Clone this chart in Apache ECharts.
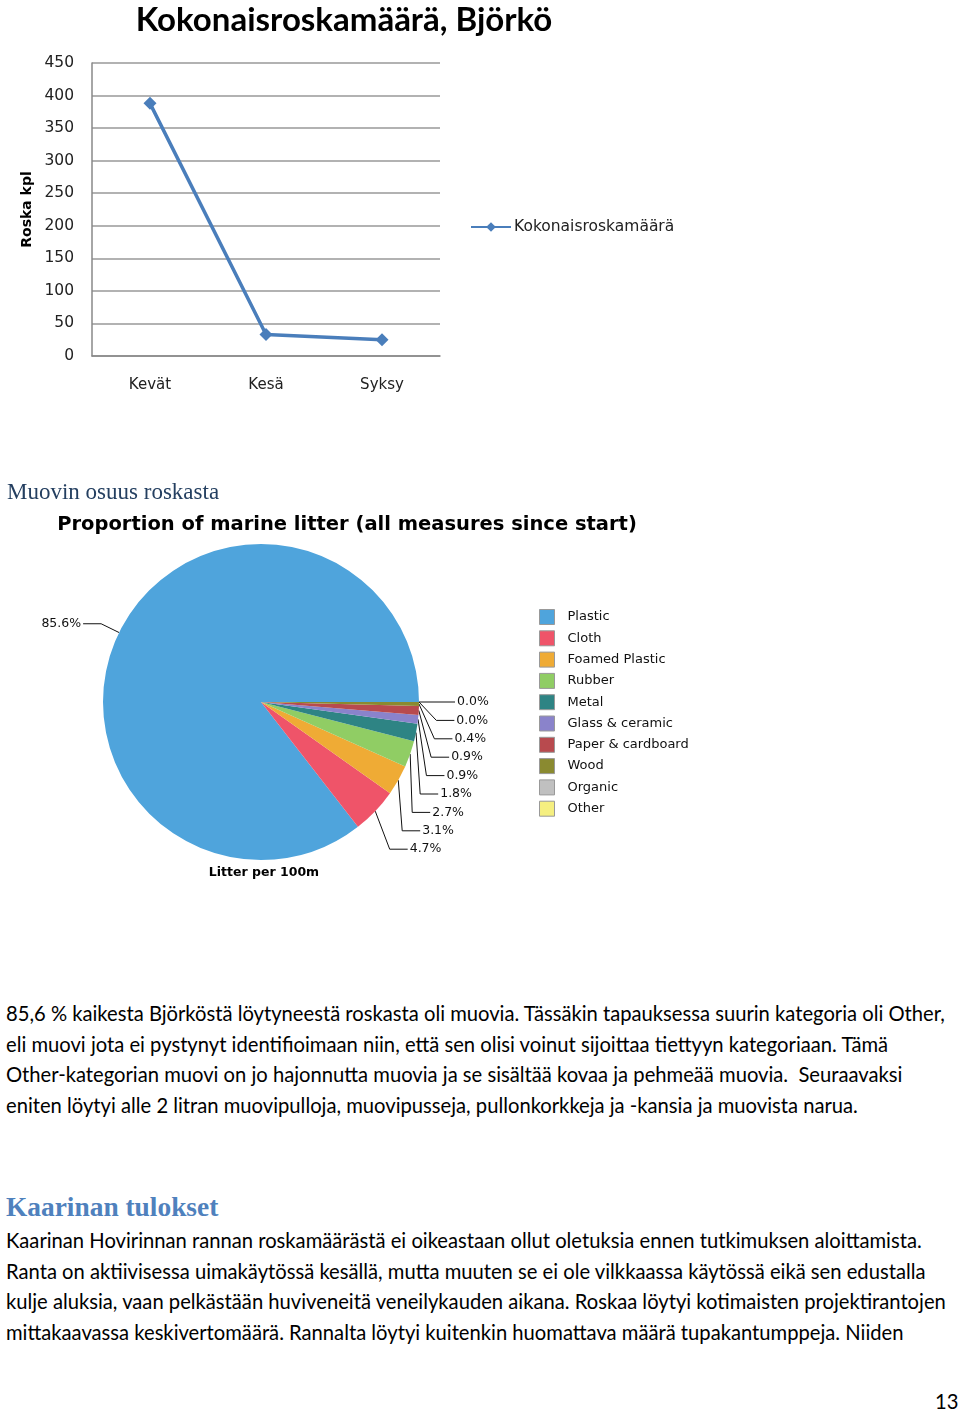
<!DOCTYPE html>
<html>
<head>
<meta charset="utf-8">
<script src="https://cdn.jsdelivr.net/npm/echarts@6/dist/echarts.min.js"></script>
<style>
  html, body { margin: 0; padding: 0; background: #fff; }
  #page { position: relative; width: 960px; height: 1411px; overflow: hidden; }
  #chart { position: absolute; left: 0; top: 0; width: 960px; height: 900px; }
  .t { position: absolute; white-space: nowrap; margin: 0; }
  .body { font-family: "Lato", "Liberation Sans", sans-serif; font-size: 20.2px; color: #000; left: 6px; line-height: 30.7px; }
  .serif { font-family: "Liberation Serif", "DejaVu Serif", serif; }
</style>
</head>
<body>
<div id="page">
  <div id="chart"></div>
  <div class="t serif" style="left:7px; top:479px; font-size:23px; color:#243f60;">Muovin osuus roskasta</div>
  <div class="t body" style="top:998px;">85,6 % kaikesta Björköstä löytyneestä roskasta oli muovia. Tässäkin tapauksessa suurin kategoria oli Other,<br>eli muovi jota ei pystynyt identifioimaan niin, että sen olisi voinut sijoittaa tiettyyn kategoriaan. Tämä<br>Other-kategorian muovi on jo hajonnutta muovia ja se sisältää kovaa ja pehmeää muovia.&nbsp; Seuraavaksi<br>eniten löytyi alle 2 litran muovipulloja, muovipusseja, pullonkorkkeja ja -kansia ja muovista narua.</div>
  <div class="t serif" style="left:6px; top:1192px; font-size:27.4px; font-weight:bold; color:#4f81bd;">Kaarinan tulokset</div>
  <div class="t body" style="top:1225px;">Kaarinan Hovirinnan rannan roskamäärästä ei oikeastaan ollut oletuksia ennen tutkimuksen aloittamista.<br>Ranta on aktiivisessa uimakäytössä kesällä, mutta muuten se ei ole vilkkaassa käytössä eikä sen edustalla<br>kulje aluksia, vaan pelkästään huviveneitä veneilykauden aikana. Roskaa löytyi kotimaisten projektirantojen<br>mittakaavassa keskivertomäärä. Rannalta löytyi kuitenkin huomattava määrä tupakantumppeja. Niiden</div>
  <div class="t body" style="left:935px; top:1386px;">13</div>
</div>
<script>
// ---- Line chart data ----
const seasons = ['Kevät', 'Kesä', 'Syksy'];
const totalLitter = [388, 33, 25];
const lineSeriesName = 'Kokonaisroskamäärä';

// ---- Pie chart data ----
const litterCategories = ['Plastic', 'Cloth', 'Foamed Plastic', 'Rubber', 'Metal', 'Glass & ceramic', 'Paper & cardboard', 'Wood', 'Organic', 'Other'];
const litterShares = [85.6, 4.7, 3.1, 2.7, 1.8, 0.9, 0.9, 0.4, 0.0, 0.0];
const litterColors = ['#4fa4dc', '#ef5469', '#efab35', '#90cd64', '#2e8484', '#8a83cb', '#b84a4e', '#8a8a30', '#c0c0c0', '#f5ef80'];

const chart = echarts.init(document.getElementById('chart'), null, { renderer: 'canvas' });

const option = {
  animation: false,
  color: litterColors,
  title: [
    { text: 'Kokonaisroskamäärä, Björkö', left: 339, top: -1, textAlign: 'center',
      textStyle: { fontFamily: 'Lato', fontWeight: 'bold', fontSize: 33, color: '#000' } },
    { text: 'Proportion of marine litter (all measures since start)', left: 342, top: 510, textAlign: 'center',
      textStyle: { fontFamily: 'DejaVu Sans', fontWeight: 'bold', fontSize: 19.5, color: '#000' } },
    { text: 'Litter per 100m', left: 259, top: 861, textAlign: 'center',
      textStyle: { fontFamily: 'DejaVu Sans', fontWeight: 'bold', fontSize: 12.5, color: '#000' } }
  ],
  legend: [
    { data: [lineSeriesName], orient: 'vertical', left: 465, top: 214,
      itemWidth: 40, itemHeight: 12, itemGap: 0,
      textStyle: { fontFamily: 'DejaVu Sans', fontSize: 15.5, color: '#222', padding: [0, 0, 0, -2] } },
    { data: litterCategories, orient: 'vertical', left: 534, top: 604,
      itemWidth: 15, itemHeight: 15, itemGap: 5.3, icon: 'rect',
      itemStyle: { borderColor: '#999', borderWidth: 1 },
      textStyle: { fontFamily: 'DejaVu Sans', fontSize: 13, color: '#111', padding: [0, 0, 0, 8] } }
  ],
  grid: { left: 92, top: 63, width: 348, height: 293 },
  xAxis: {
    type: 'category', data: seasons, boundaryGap: true,
    axisLine: { lineStyle: { color: '#888', width: 1.5 } },
    axisTick: { show: false },
    axisLabel: { margin: 22, fontFamily: 'DejaVu Sans', fontSize: 15, color: '#222' }
  },
  yAxis: {
    type: 'value', min: 0, max: 450, interval: 50,
    name: 'Roska kpl', nameLocation: 'middle', nameGap: 58, nameRotate: 90,
    nameTextStyle: { fontFamily: 'DejaVu Sans', fontWeight: 'bold', fontSize: 14, color: '#000' },
    axisLine: { show: true, lineStyle: { color: '#888', width: 1.5 } },
    axisTick: { show: false },
    splitLine: { lineStyle: { color: '#999', width: 1.5 } },
    axisLabel: { margin: 18, fontFamily: 'DejaVu Sans', fontSize: 15.5, color: '#222' }
  },
  series: [
    { name: lineSeriesName, type: 'line', data: totalLitter,
      color: '#4a7ebb', symbol: 'diamond', symbolSize: 13,
      lineStyle: { width: 3.5, color: '#4a7ebb' },
      itemStyle: { color: '#4a7ebb' } },
    { name: 'Litter', type: 'pie', center: [261, 702], radius: 158,
      startAngle: 0, clockwise: false,
      data: litterCategories.map((n, i) => ({ name: n, value: litterShares[i], itemStyle: { color: litterColors[i] } })),
      label: { show: true, formatter: p => litterShares[p.dataIndex].toFixed(1) + '%',
        fontFamily: 'DejaVu Sans', fontSize: 12.5, lineHeight: 16.4, color: '#111', distanceToLabelLine: 2 },
      labelLine: { show: true, length: 20, length2: 18, lineStyle: { color: '#111', width: 1 } },
      avoidLabelOverlap: true,
      emphasis: { disabled: true },
      stillShowZeroSum: true
    }
  ]
};
chart.setOption(option);
</script>
</body>
</html>
